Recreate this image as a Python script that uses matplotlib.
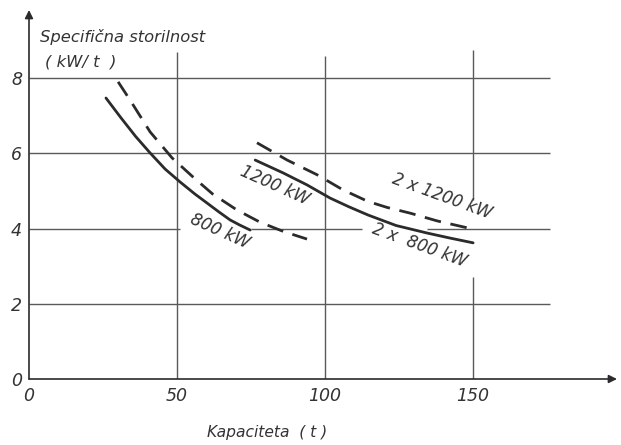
import matplotlib
matplotlib.use("Agg")
import matplotlib.pyplot as plt

# ---- data ----
x_800 = [26.0, 31.0, 36.0, 40.9, 46.0, 51.0, 56.0, 60.1, 64.0, 67.9, 71.0, 74.7]
y_800 = [7.47, 6.95, 6.45, 6.01, 5.58, 5.24, 4.92, 4.68, 4.45, 4.23, 4.10, 3.96]

x_1200 = [30.1, 34.1, 40.9, 48.3, 55.4, 62.0, 70.3, 78.0, 86.0, 93.9]
y_1200 = [7.90, 7.42, 6.57, 5.88, 5.37, 4.92, 4.49, 4.17, 3.92, 3.72]

x_2x800 = [76.4, 85.8, 93.9, 101.7, 108.0, 114.5, 124.0, 134.5, 142.0, 150.0]
y_2x800 = [5.82, 5.48, 5.16, 4.81, 4.58, 4.36, 4.08, 3.88, 3.75, 3.62]

x_2x1200 = [77.0, 87.2, 97.3, 106.0, 114.5, 121.0, 128.7, 138.0, 148.0]
y_2x1200 = [6.28, 5.82, 5.43, 5.03, 4.72, 4.56, 4.41, 4.20, 4.02]

curve_labels = ["800 kW", "1200 kW", "2 x  800 kW", "2 x 1200 kW"]
x_ticks = [0, 50, 100, 150]
x_ticklabels = ["0", "50", "100", "150"]
y_ticks = [0, 2, 4, 6, 8]
y_ticklabels = ["0", "2", "4", "6", "8"]
ylabel_lines = ["Specifična storilnost", "( kW/ t  )"]
xlabel_text = "Kapaciteta  ( t )"

# ---- figure ----
W, H = 621, 445
fig = plt.figure(figsize=(W / 100, H / 100), dpi=100)
fig.patch.set_facecolor("white")
ax = fig.add_axes([29 / W, (H - 379) / H, (617 - 29) / W, (379 - 10) / H])
xmax, ymax = 198.6, 9.81
ax.set_xlim(0, xmax)
ax.set_ylim(0, ymax)
for s in ax.spines.values():
    s.set_visible(False)

ink = "#2b2b2b"
grid = "#5a5a5a"
fnt = dict(family="DejaVu Sans", style="italic", color="#333333")

# axis lines with arrows
ax.annotate("", xy=(0, ymax), xytext=(0, 0),
            arrowprops=dict(arrowstyle="-|>", color=ink, lw=1.2,
                            mutation_scale=12, shrinkA=0, shrinkB=0),
            annotation_clip=False)
ax.annotate("", xy=(xmax, 0), xytext=(0, 0),
            arrowprops=dict(arrowstyle="-|>", color=ink, lw=1.2,
                            mutation_scale=12, shrinkA=0, shrinkB=0),
            annotation_clip=False)

# grid lines (with the gaps of the original drawing)
glw = 1.0
ax.vlines(50, 0, 8.7, color=grid, lw=glw)
ax.vlines(100, 0, 8.6, color=grid, lw=glw)
ax.vlines(150, 4.76, 8.75, color=grid, lw=glw)
ax.vlines(150, 0, 2.71, color=grid, lw=glw)
for yv in [2, 6, 8]:
    ax.hlines(yv, 0, 176, color=grid, lw=glw)
ax.hlines(4, 0, 51, color=grid, lw=glw)
ax.hlines(4, 75, 112.5, color=grid, lw=glw)
ax.hlines(4, 134.5, 176, color=grid, lw=glw)

# curves
clw = 2.0
ax.plot(x_800, y_800, color=ink, lw=clw, solid_capstyle="round", solid_joinstyle="round")
ax.plot(x_1200, y_1200, color=ink, lw=clw, dashes=(6, 3.5))
ax.plot(x_2x800, y_2x800, color=ink, lw=clw, solid_capstyle="round", solid_joinstyle="round")
ax.plot(x_2x1200, y_2x1200, color=ink, lw=clw, dashes=(6, 3.5))

# curve labels
lab_pos = [(64.5, 3.92, -24), (83.0, 5.15, -24), (132.0, 3.55, -20), (139.5, 4.85, -20)]
for txt, (lx, ly, rot) in zip(curve_labels, lab_pos):
    ax.text(lx, ly, txt, rotation=rot, rotation_mode="anchor",
            ha="center", va="center", fontsize=12, **fnt)

# ticks
ax.set_xticks(x_ticks)
ax.set_xticklabels(x_ticklabels, fontsize=12.5, **fnt)
ax.set_yticks(y_ticks)
ax.set_yticklabels(y_ticklabels, fontsize=12.5, **fnt)
ax.tick_params(axis="both", length=0)
ax.tick_params(axis="x", pad=6)
ax.tick_params(axis="y", pad=5)

# axis titles
ax.text(3.7, 9.1, ylabel_lines[0], ha="left", va="center", fontsize=11.8, **fnt)
ax.text(5.4, 8.42, ylabel_lines[1], ha="left", va="center", fontsize=11.8, **fnt)
fig.text(267 / W, 1 - 433 / H, xlabel_text, ha="center", va="center", fontsize=11.2, **fnt)

fig.savefig("out.png", dpi=100, facecolor="white")
